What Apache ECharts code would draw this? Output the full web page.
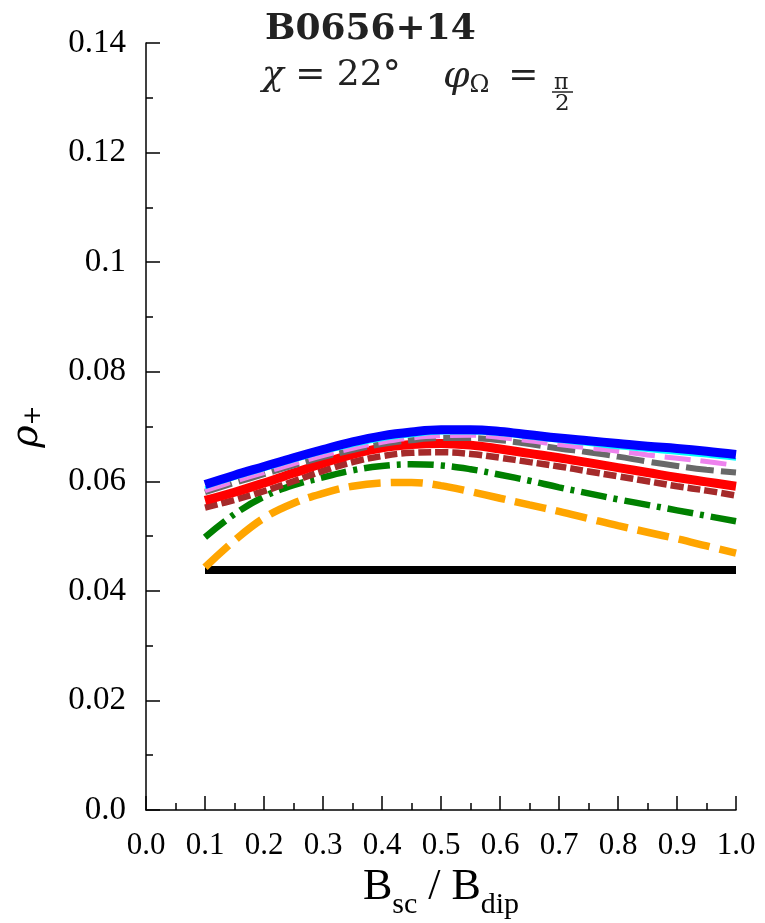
<!DOCTYPE html>
<html>
<head>
<meta charset="utf-8">
<script src="https://cdn.jsdelivr.net/npm/echarts@6/dist/echarts.min.js"></script>
<style>
html,body{margin:0;padding:0;background:#fff;}
#chart{width:765px;height:923px;}
</style>
</head>
<body>
<div id="chart"></div>
<script>
const xVals = [0.1,0.15,0.2,0.25,0.3,0.35,0.4,0.45,0.5,0.55,0.6,0.65,0.7,0.75,0.8,0.85,0.9,0.95,1.0];
const blueVals   = [0.0594,0.0611,0.0627,0.0643,0.0658,0.0672,0.0683,0.0690,0.0694,0.0694,0.0691,0.0685,0.0679,0.0674,0.0669,0.0664,0.0660,0.0655,0.0649];
const cyanVals   = [0.0588,0.0605,0.0621,0.0637,0.0652,0.0665,0.0676,0.0683,0.0688,0.0688,0.0685,0.0679,0.0673,0.0667,0.0661,0.0656,0.0651,0.0646,0.0640];
const violetVals = [0.0583,0.0600,0.0616,0.0632,0.0647,0.0660,0.0671,0.0679,0.0683,0.0684,0.0680,0.0674,0.0667,0.0661,0.0655,0.0648,0.0642,0.0636,0.0629];
const grayVals   = [0.0580,0.0597,0.0613,0.0629,0.0644,0.0657,0.0668,0.0675,0.0679,0.0679,0.0675,0.0668,0.0660,0.0653,0.0645,0.0636,0.0628,0.0621,0.0616];
const redVals    = [0.0565,0.0580,0.0597,0.0615,0.0633,0.0649,0.0661,0.0667,0.0669,0.0666,0.0659,0.0651,0.0643,0.0634,0.0625,0.0616,0.0607,0.0599,0.0591];
const brownVals  = [0.0552,0.0566,0.0582,0.0600,0.0619,0.0635,0.0646,0.0652,0.0653,0.0650,0.0643,0.0635,0.0627,0.0618,0.0609,0.0600,0.0591,0.0583,0.0574];
const greenVals  = [0.0498,0.0540,0.0572,0.0593,0.0607,0.0620,0.0628,0.0631,0.0629,0.0622,0.0612,0.0601,0.0589,0.0578,0.0567,0.0557,0.0547,0.0537,0.0527];
const orangeVals = [0.0443,0.0492,0.0533,0.0560,0.0578,0.0591,0.0597,0.0598,0.0592,0.0581,0.0569,0.0557,0.0545,0.0532,0.0519,0.0507,0.0495,0.0482,0.0469];
const blackVals  = [0.0438,0.0438,0.0438,0.0438,0.0438,0.0438,0.0438,0.0438,0.0438,0.0438,0.0438,0.0438,0.0438,0.0438,0.0438,0.0438,0.0438,0.0438,0.0438];
const xTickLabels = ['0.0','0.1','0.2','0.3','0.4','0.5','0.6','0.7','0.8','0.9','1.0'];
const yTickLabels = ['0.0','0.02','0.04','0.06','0.08','0.1','0.12','0.14'];

function pairs(vals){ return xVals.map((x,i)=>[x, vals[i]]); }

const chart = echarts.init(document.getElementById('chart'), null, {renderer:'canvas'});

function mk(name, vals, color, width, dash, z){
  return {
    name: name, type:'line', data: pairs(vals), smooth: 0.4, symbol:'none', z: z,
    lineStyle:{color: color, width: width, type: dash || 'solid', cap:'butt'}
  };
}

const serif = '"Liberation Serif", "Times New Roman", serif';
const cm = '"DejaVu Serif", serif';

chart.setOption({
  animation:false,
  backgroundColor:'#fff',
  grid:{left:146, right:29, top:43, bottom:113, containLabel:false, outerBoundsMode:'none'},
  xAxis:{
    type:'value', min:0, max:1, interval:0.1,
    name:'{b|B}{s|sc}{b| / B}{s|dip}', nameLocation:'middle', nameGap:49,
    nameTextStyle:{rich:{
      b:{fontFamily:serif, fontSize:44, color:'#000', verticalAlign:'bottom'},
      s:{fontFamily:serif, fontSize:30, color:'#000', padding:[0,0,-10,0], verticalAlign:'bottom'}
    }},
    axisLine:{show:true, onZero:false, lineStyle:{color:'#000', width:1.5}},
    axisTick:{show:true, inside:true, length:14, lineStyle:{color:'#000', width:1.5}},
    minorTick:{show:true, splitNumber:2, length:7, lineStyle:{color:'#000', width:1.5}},
    splitLine:{show:false},
    axisLabel:{fontFamily:serif, fontSize:31, color:'#000', margin:20, hideOverlap:false,
      formatter:(v)=>xTickLabels[Math.round(v*10)]}
  },
  yAxis:{
    type:'value', min:0, max:0.14, interval:0.02,
    name:'{r|ρ}{s|+}', nameLocation:'middle', nameGap:100, nameRotate:90,
    nameTextStyle:{rich:{
      r:{fontFamily:cm, fontSize:38, fontStyle:'italic', color:'#000'},
      s:{fontFamily:cm, fontSize:24, color:'#000', padding:[14,0,0,0]}
    }},
    axisLine:{show:true, onZero:false, lineStyle:{color:'#000', width:1.5}},
    axisTick:{show:true, inside:true, length:14, lineStyle:{color:'#000', width:1.5}},
    minorTick:{show:true, splitNumber:2, length:7, lineStyle:{color:'#000', width:1.5}},
    splitLine:{show:false},
    axisLabel:{fontFamily:serif, fontSize:33, color:'#000', margin:20,
      formatter:(v)=>yTickLabels[Math.round(v/0.02)]}
  },
  graphic:[
    {type:'text', left:265, top:12, style:{text:'B0656+14', fontFamily:cm, fontWeight:'bold', fontSize:36, fill:'#222'}},
    {type:'text', left:262, top:58, style:{
      text:'{i|χ} = 22°', fontFamily:cm, fontSize:36, fill:'#222',
      rich:{i:{fontFamily:cm, fontStyle:'italic', fontSize:36, fill:'#222'}}}},
    {type:'text', left:443, top:58, style:{
      text:'{i|φ}{s|Ω}\u2009 =', fontFamily:cm, fontSize:36, fill:'#222',
      rich:{i:{fontFamily:cm, fontStyle:'italic', fontSize:38, fill:'#222'},
            s:{fontFamily:cm, fontSize:24, fill:'#222', padding:[18,0,0,0]}}}},
    {type:'text', left:554, top:72, style:{text:'π', fontFamily:cm, fontSize:22, fill:'#222'}},
    {type:'line', shape:{x1:552, y1:92, x2:573, y2:92}, style:{stroke:'#222', lineWidth:1.5}},
    {type:'text', left:555, top:93, style:{text:'2', fontFamily:cm, fontSize:23, fill:'#222'}}
  ],
  series:[
    mk('black', blackVals, '#000000', 8, 'solid', 1),
    mk('orange', orangeVals, '#FFA500', 7.5, [32,10], 2),
    mk('green', greenVals, '#008000', 6.5, [26,7,4,7], 3),
    mk('brown', brownVals, '#A52A2A', 6.5, [13,4], 4),
    mk('red', redVals, '#FF0000', 9, 'solid', 5),
    mk('gray', grayVals, '#696969', 6, [28,7], 6),
    mk('violet', violetVals, '#EE82EE', 5, [26,10], 7),
    mk('cyan', cyanVals, '#00FFFF', 3, 'solid', 8),
    mk('blue', blueVals, '#0000FF', 9, 'solid', 9)
  ]
});
</script>
</body>
</html>
